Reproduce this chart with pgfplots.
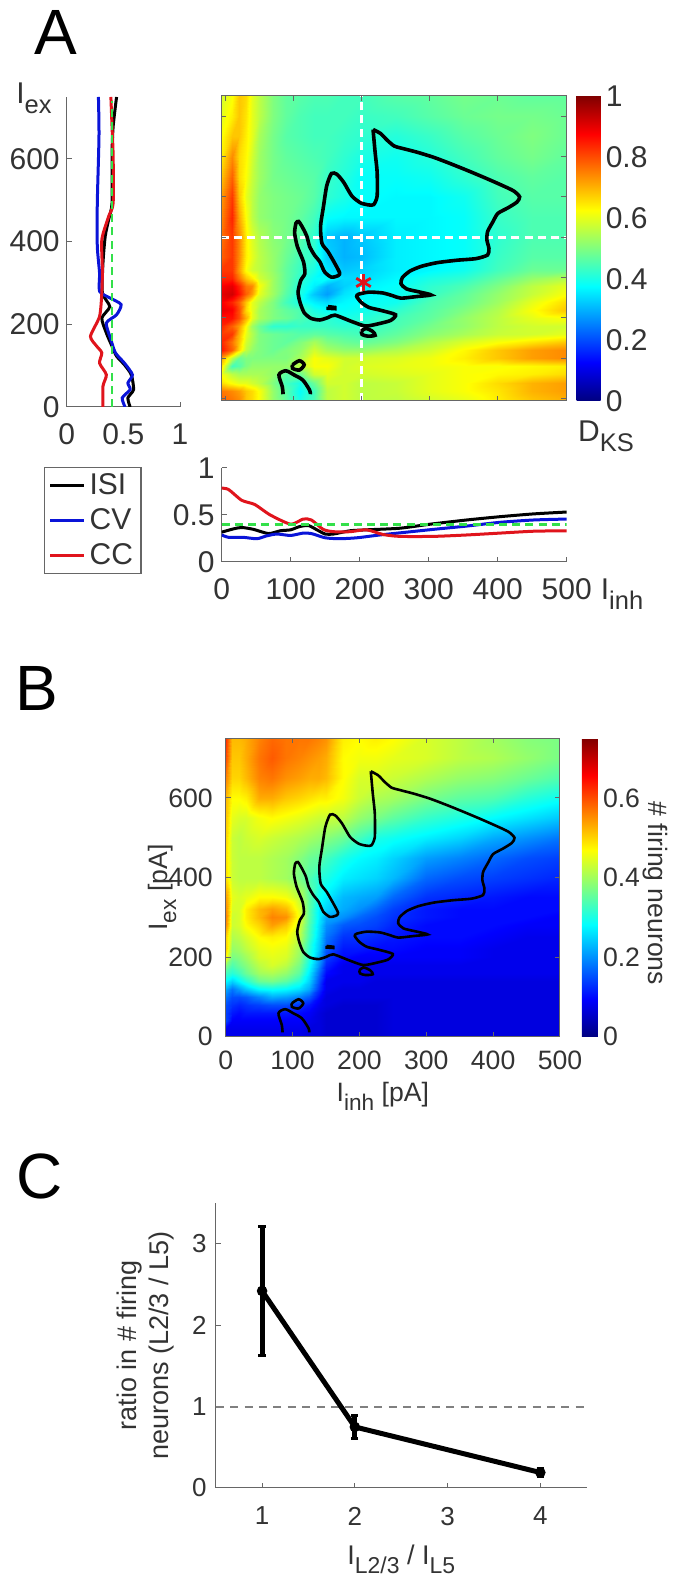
\documentclass[border=0pt]{standalone}
\usepackage{fontspec}
\setmainfont{Liberation Sans}
\usepackage{pgfplots}
\usepackage{pgfplotstable}
\pgfplotsset{compat=1.18}
\definecolor{txt}{HTML}{333333}
\definecolor{axc}{HTML}{666666}
\definecolor{kred}{HTML}{E0141C}
\definecolor{kblue}{HTML}{0A14D8}
\definecolor{kgreen}{HTML}{33E04A}
\newcommand\fs[1]{\fontsize{#1}{#1}\selectfont}
\newcommand\Sb[1]{\raisebox{-.34em}{\scalebox{.85}{#1}}}
\pgfplotsset{
  base/.style={scale only axis,enlargelimits=false,tick align=inside,tickwidth=2.5pt,
    axis line style={color=axc,line width=.5pt},tick style={color=axc,line width=.5pt},
    /pgf/number format/assume math mode=true,
    tick label style={color=txt},label style={color=txt},clip=true},
}
\pgfplotstableread{
x y
217 667
228 657
238 640
248 626
258 621
281 611
306 598
331 582
356 565
380 548
403 531
423 515
432 500
428 487
415 473
400 459
393 439
385 414
384 393
387 372
385 356
368 347
340 343
311 337
288 328
271 316
260 300
258 285
266 272
286 264
302 257
281 253
258 249
246 255
231 262
211 264
196 259
193 253
200 238
211 226
228 219
250 208
243 194
226 186
206 180
186 191
161 207
151 201
139 195
126 199
116 213
110 238
107 264
111 293
117 310
115 339
106 377
102 410
104 435
108 439
114 423
120 402
124 377
131 356
139 339
146 314
156 301
166 305
168 312
161 335
151 364
142 385
140 427
144 473
149 527
156 558
164 556
174 536
186 502
199 485
211 480
218 481
223 502
223 561
220 611
217 667
}\contmain
\pgfplotstableread{
x y
200 167
206 174
216 167
220 157
209 155
201 159
200 167
}\contoval
\pgfplotstableread{
x y
99 84
109 94
116 84
109 71
99 75
99 84
}\contsmall
\pgfplotstableread{
x y
85 11
84 29
79 59
89 69
101 59
114 46
124 21
125 11
}\contarch
\pgfplotstableread{
x y
151 228
161 226
161 223
151 224
151 228
}\contblob
\newcommand\contours[1]{%
  \addplot[black,line width=#1,smooth,tension=.4] table {\contmain};
  \addplot[black,line width=#1,smooth,tension=.5] table {\contoval};
  \addplot[black,line width=#1,smooth,tension=.5] table {\contsmall};
  \addplot[black,line width=#1,smooth,tension=.5] table {\contarch};
  \addplot[black,fill=black,line width=#1] table {\contblob};
}
\begin{document}
\begin{tikzpicture}
\path[use as bounding box] (0,0) rectangle (336.5pt,789pt);
% panel letters
\node[text=black] at (28pt,772.5pt) {\fs{32}A};
\node[text=black] at (18.5pt,445pt) {\fs{32}B};
\node[text=black] at (20pt,201pt) {\fs{32}C};
% --- A heat map
\begin{axis}[base,at={(110.5pt,588.65pt)},anchor=south west,width=172.5pt,height=152.35pt,
  xmin=-6,xmax=500,ymin=-5,ymax=750,xtick={0,100,...,500},ytick={0,100,...,700},
  xticklabels={},yticklabels={},axis on top,colormap/jet,point meta min=0,point meta max=1,
  colorbar,colorbar style={at={(1.031,0)},anchor=south west,width=12pt,
    ytick={0,0.2,0.4,0.6,0.8,1},yticklabels={0,0.2,0.4,0.6,0.8,1},
    ytick style={draw=none},yticklabel style={font=\fs{15},color=txt,xshift=-1pt},
    axis line style={draw=none}}]
\addplot[surf,shader=interp,mesh/cols=19,point meta=explicit] table[row sep=\\,x=x,y=y,meta=v]{
x y v\\
-6 750 0.58\\10 750 0.62\\20 750 0.68\\30 750 0.66\\40 750 0.60\\50 750 0.56\\70 750 0.50\\90 750 0.47\\110 750 0.46\\130 750 0.45\\150 750 0.45\\175 750 0.44\\200 750 0.44\\250 750 0.46\\300 750 0.47\\350 750 0.49\\400 750 0.48\\450 750 0.47\\500 750 0.47\\
-6 700 0.60\\10 700 0.64\\20 700 0.68\\30 700 0.65\\40 700 0.60\\50 700 0.56\\70 700 0.50\\90 700 0.47\\110 700 0.45\\130 700 0.44\\150 700 0.44\\175 700 0.44\\200 700 0.43\\250 700 0.44\\300 700 0.46\\350 700 0.48\\400 700 0.49\\450 700 0.49\\500 700 0.48\\
-6 650 0.62\\10 650 0.68\\20 650 0.68\\30 650 0.64\\40 650 0.60\\50 650 0.54\\70 650 0.49\\90 650 0.46\\110 650 0.45\\130 650 0.44\\150 650 0.44\\175 650 0.43\\200 650 0.42\\250 650 0.41\\300 650 0.43\\350 650 0.46\\400 650 0.48\\450 650 0.50\\500 650 0.48\\
-6 600 0.64\\10 600 0.74\\20 600 0.66\\30 600 0.63\\40 600 0.58\\50 600 0.53\\70 600 0.49\\90 600 0.47\\110 600 0.46\\130 600 0.45\\150 600 0.44\\175 600 0.42\\200 600 0.40\\250 600 0.39\\300 600 0.41\\350 600 0.44\\400 600 0.47\\450 600 0.49\\500 600 0.47\\
-6 550 0.68\\10 550 0.78\\20 550 0.66\\30 550 0.62\\40 550 0.57\\50 550 0.53\\70 550 0.49\\90 550 0.48\\110 550 0.47\\130 550 0.46\\150 550 0.43\\175 550 0.41\\200 550 0.38\\250 550 0.38\\300 550 0.39\\350 550 0.42\\400 550 0.45\\450 550 0.47\\500 550 0.46\\
-6 500 0.72\\10 500 0.82\\20 500 0.68\\30 500 0.60\\40 500 0.56\\50 500 0.52\\70 500 0.50\\90 500 0.49\\110 500 0.48\\130 500 0.46\\150 500 0.42\\175 500 0.40\\200 500 0.38\\250 500 0.37\\300 500 0.37\\350 500 0.39\\400 500 0.44\\450 500 0.46\\500 500 0.46\\
-6 450 0.74\\10 450 0.84\\20 450 0.71\\30 450 0.62\\40 450 0.56\\50 450 0.52\\70 450 0.50\\90 450 0.49\\110 450 0.47\\130 450 0.44\\150 450 0.38\\175 450 0.37\\200 450 0.37\\250 450 0.37\\300 450 0.37\\350 450 0.38\\400 450 0.43\\450 450 0.45\\500 450 0.45\\
-6 400 0.76\\10 400 0.82\\20 400 0.74\\30 400 0.64\\40 400 0.59\\50 400 0.55\\70 400 0.51\\90 400 0.49\\110 400 0.46\\130 400 0.42\\150 400 0.32\\175 400 0.30\\200 400 0.32\\250 400 0.36\\300 400 0.37\\350 400 0.38\\400 400 0.42\\450 400 0.45\\500 400 0.45\\
-6 350 0.78\\10 350 0.82\\20 350 0.74\\30 350 0.64\\40 350 0.60\\50 350 0.56\\70 350 0.52\\90 350 0.48\\110 350 0.44\\130 350 0.42\\150 350 0.33\\175 350 0.30\\200 350 0.31\\250 350 0.36\\300 350 0.37\\350 350 0.38\\400 350 0.43\\450 350 0.46\\500 350 0.46\\
-6 320 0.82\\10 320 0.82\\20 320 0.72\\30 320 0.62\\40 320 0.58\\50 320 0.56\\70 320 0.52\\90 320 0.47\\110 320 0.43\\130 320 0.40\\150 320 0.35\\175 320 0.32\\200 320 0.33\\250 320 0.36\\300 320 0.37\\350 320 0.39\\400 320 0.44\\450 320 0.48\\500 320 0.48\\
-6 300 0.84\\10 300 0.84\\20 300 0.76\\30 300 0.68\\40 300 0.64\\50 300 0.58\\70 300 0.53\\90 300 0.47\\110 300 0.42\\130 300 0.38\\150 300 0.38\\175 300 0.34\\200 300 0.34\\250 300 0.37\\300 300 0.40\\350 300 0.42\\400 300 0.47\\450 300 0.52\\500 300 0.55\\
-6 280 0.88\\10 280 0.90\\20 280 0.84\\30 280 0.76\\40 280 0.74\\50 280 0.62\\70 280 0.53\\90 280 0.47\\110 280 0.41\\130 280 0.36\\150 280 0.30\\175 280 0.33\\200 280 0.36\\250 280 0.38\\300 280 0.42\\350 280 0.45\\400 280 0.50\\450 280 0.56\\500 280 0.60\\
-6 260 0.90\\10 260 0.92\\20 260 0.86\\30 260 0.78\\40 260 0.72\\50 260 0.60\\70 260 0.53\\90 260 0.46\\110 260 0.40\\130 260 0.32\\150 260 0.28\\175 260 0.35\\200 260 0.37\\250 260 0.38\\300 260 0.43\\350 260 0.47\\400 260 0.52\\450 260 0.57\\500 260 0.62\\
-6 240 0.88\\10 240 0.84\\20 240 0.78\\30 240 0.68\\40 240 0.60\\50 240 0.56\\70 240 0.50\\90 240 0.44\\110 240 0.40\\130 240 0.36\\150 240 0.34\\175 240 0.37\\200 240 0.38\\250 240 0.39\\300 240 0.45\\350 240 0.48\\400 240 0.53\\450 240 0.60\\500 240 0.66\\
-6 220 0.90\\10 220 0.88\\20 220 0.80\\30 220 0.66\\40 220 0.60\\50 220 0.54\\70 220 0.50\\90 220 0.47\\110 220 0.45\\130 220 0.40\\150 220 0.38\\175 220 0.38\\200 220 0.39\\250 220 0.42\\300 220 0.46\\350 220 0.50\\400 220 0.55\\450 220 0.62\\500 220 0.68\\
-6 200 0.86\\10 200 0.86\\20 200 0.80\\30 200 0.70\\40 200 0.60\\50 200 0.54\\70 200 0.50\\90 200 0.48\\110 200 0.45\\130 200 0.43\\150 200 0.42\\175 200 0.40\\200 200 0.41\\250 200 0.44\\300 200 0.47\\350 200 0.52\\400 200 0.56\\450 200 0.60\\500 200 0.62\\
-6 180 0.84\\10 180 0.78\\20 180 0.72\\30 180 0.62\\40 180 0.53\\50 180 0.48\\70 180 0.42\\90 180 0.42\\110 180 0.43\\130 180 0.43\\150 180 0.43\\175 180 0.42\\200 180 0.42\\250 180 0.45\\300 180 0.49\\350 180 0.52\\400 180 0.56\\450 180 0.58\\500 180 0.58\\
-6 160 0.82\\10 160 0.82\\20 160 0.70\\30 160 0.60\\40 160 0.55\\50 160 0.50\\70 160 0.48\\90 160 0.47\\110 160 0.46\\130 160 0.47\\150 160 0.46\\175 160 0.45\\200 160 0.44\\250 160 0.47\\300 160 0.51\\350 160 0.54\\400 160 0.57\\450 160 0.58\\500 160 0.60\\
-6 140 0.84\\10 140 0.76\\20 140 0.68\\30 140 0.58\\40 140 0.54\\50 140 0.50\\70 140 0.48\\90 140 0.47\\110 140 0.50\\130 140 0.54\\150 140 0.50\\175 140 0.48\\200 140 0.47\\250 140 0.50\\300 140 0.55\\350 140 0.59\\400 140 0.62\\450 140 0.65\\500 140 0.68\\
-6 120 0.86\\10 120 0.78\\20 120 0.66\\30 120 0.56\\40 120 0.52\\50 120 0.50\\70 120 0.48\\90 120 0.50\\110 120 0.52\\130 120 0.58\\150 120 0.54\\175 120 0.52\\200 120 0.52\\250 120 0.55\\300 120 0.58\\350 120 0.63\\400 120 0.68\\450 120 0.72\\500 120 0.74\\
-6 100 0.72\\10 100 0.56\\20 100 0.48\\30 100 0.50\\40 100 0.50\\50 100 0.50\\70 100 0.50\\90 100 0.50\\110 100 0.54\\130 100 0.62\\150 100 0.60\\175 100 0.58\\200 100 0.58\\250 100 0.59\\300 100 0.61\\350 100 0.64\\400 100 0.68\\450 100 0.72\\500 100 0.74\\
-6 80 0.66\\10 80 0.44\\20 80 0.46\\30 80 0.50\\40 80 0.52\\50 80 0.52\\70 80 0.52\\90 80 0.52\\110 80 0.56\\130 80 0.62\\150 80 0.62\\175 80 0.58\\200 80 0.59\\250 80 0.60\\300 80 0.61\\350 80 0.62\\400 80 0.62\\450 80 0.63\\500 80 0.64\\
-6 60 0.62\\10 60 0.56\\20 60 0.54\\30 60 0.54\\40 60 0.54\\50 60 0.54\\70 60 0.52\\90 60 0.46\\110 60 0.48\\130 60 0.58\\150 60 0.60\\175 60 0.58\\200 60 0.58\\250 60 0.59\\300 60 0.60\\350 60 0.62\\400 60 0.63\\450 60 0.64\\500 60 0.66\\
-6 40 0.66\\10 40 0.62\\20 40 0.60\\30 40 0.60\\40 40 0.58\\50 40 0.56\\70 40 0.50\\90 40 0.44\\110 40 0.40\\130 40 0.48\\150 40 0.58\\175 40 0.58\\200 40 0.56\\250 40 0.57\\300 40 0.60\\350 40 0.62\\400 40 0.66\\450 40 0.70\\500 40 0.72\\
-6 20 0.76\\10 20 0.74\\20 20 0.72\\30 20 0.68\\40 20 0.66\\50 20 0.62\\70 20 0.52\\90 20 0.46\\110 20 0.38\\130 20 0.44\\150 20 0.56\\175 20 0.58\\200 20 0.56\\250 20 0.57\\300 20 0.60\\350 20 0.62\\400 20 0.65\\450 20 0.70\\500 20 0.72\\
-6 -5 0.78\\10 -5 0.76\\20 -5 0.74\\30 -5 0.68\\40 -5 0.66\\50 -5 0.62\\70 -5 0.52\\90 -5 0.47\\110 -5 0.40\\130 -5 0.45\\150 -5 0.56\\175 -5 0.58\\200 -5 0.56\\250 -5 0.56\\300 -5 0.58\\350 -5 0.60\\400 -5 0.64\\450 -5 0.68\\500 -5 0.70\\
};
\addplot[white,line width=1.3pt,dash pattern=on 4pt off 2.6pt] coordinates {(-6,400) (500,400)};
\addplot[white,line width=1.3pt,dash pattern=on 4pt off 2.6pt] coordinates {(200,-5) (200,750)};
\contours{1.8pt}
\addplot[only marks,mark=asterisk,mark size=4.2pt,mark options={color=kred,line width=1.4pt}] coordinates {(203,288)};
\end{axis}
% D_KS and I_inh labels
\node[text=txt,anchor=center] at (303pt,571pt) {\fs{15}D\Sb{KS}};
\node[text=txt,anchor=center] at (311pt,492pt) {\fs{15}I\Sb{inh}};
\node[text=txt,anchor=center] at (17pt,740pt) {\fs{15}I\Sb{ex}};
% --- A left panel
\begin{axis}[base,at={(33.35pt,585.5pt)},anchor=south west,width=56.65pt,height=155pt,
  xmin=0,xmax=1,ymin=0,ymax=750,axis x line*=bottom,axis y line*=left,
  xtick={0,0.5,1},xticklabels={0,0.5,1},ytick={0,200,400,600},
  tick label style={font=\fs{15}},xticklabel style={yshift=-5pt},
  legend style={at={(-0.2,-0.194)},anchor=north west,draw=axc,line width=.6pt,font=\fs{15},
    inner xsep=2pt,inner ysep=1pt,row sep=1.5pt,cells={anchor=west,text=txt},/tikz/every even column/.append style={column sep=0pt}},
  legend image code/.code={\draw[#1,line width=1.5pt] (0,0) -- (17pt,0);}]
\addplot[black,line width=1.5pt,smooth,tension=.4] coordinates {(0.44,750)(0.41,679)(0.40,614)(0.40,493)(0.37,453)(0.34,413)(0.32,348)(0.315,276)(0.38,243)(0.31,215)(0.35,179)(0.40,147)(0.44,123)(0.51,102)(0.57,78)(0.59,42)(0.54,22)(0.56,0)};
\addplot[kblue,line width=1.5pt,smooth,tension=.4] coordinates {(0.28,750)(0.285,655)(0.27,493)(0.27,389)(0.29,324)(0.29,280)(0.38,264)(0.48,248)(0.44,223)(0.35,203)(0.39,163)(0.43,131)(0.51,106)(0.58,78)(0.54,58)(0.56,42)(0.49,22)(0.515,0)};
\addplot[kred,line width=1.5pt,smooth,tension=.4] coordinates {(0.39,750)(0.40,679)(0.41,606)(0.41,493)(0.37,461)(0.31,405)(0.315,332)(0.31,276)(0.29,219)(0.21,171)(0.265,147)(0.31,131)(0.29,106)(0.35,78)(0.32,50)(0.32,0)};
\addplot[kgreen,line width=1.4pt,dash pattern=on 4pt off 2.6pt] coordinates {(0.4,0)(0.4,740)};
\legend{ISI,CV,CC}
\end{axis}
% --- A bottom panel
\begin{axis}[base,at={(110.85pt,508.15pt)},anchor=south west,width=172.5pt,height=46.85pt,
  xmin=0,xmax=500,ymin=0,ymax=1,axis x line*=bottom,axis y line*=left,
  xtick={0,100,...,500},ytick={0,0.5,1},yticklabels={0,0.5,1},
  tick label style={font=\fs{15}},xticklabel style={yshift=-5pt}]
\addplot[black,line width=1.5pt,smooth,tension=.4] coordinates {(0,.315)(17,.35)(29,.365)(46,.345)(68,.30)(85,.33)(100,.34)(113,.375)(126,.385)(138,.34)(150,.295)(162,.295)(186,.33)(210,.34)(258,.357)(302,.40)(355,.445)(403,.48)(452,.51)(500,.53)};
\addplot[kblue,line width=1.5pt,smooth,tension=.4] coordinates {(0,.285)(10,.26)(31,.26)(51,.245)(65,.275)(80,.295)(100,.28)(118,.305)(130,.30)(150,.255)(171,.245)(196,.255)(229,.285)(268,.315)(307,.345)(355,.38)(403,.42)(452,.445)(500,.455)};
\addplot[kred,line width=1.5pt,smooth,tension=.4] coordinates {(0,.785)(10,.77)(29,.655)(48,.61)(70,.50)(100,.40)(118,.455)(130,.445)(147,.345)(162,.32)(186,.32)(210,.34)(234,.29)(258,.27)(307,.27)(355,.285)(403,.305)(452,.325)(500,.33)};
\addplot[kgreen,line width=1.4pt,dash pattern=on 4pt off 2.6pt] coordinates {(0,0.4)(500,0.4)};
\end{axis}
% --- B heat map
\begin{axis}[base,at={(112.85pt,270.65pt)},anchor=south west,width=167.15pt,height=149.2pt,
  xmin=0,xmax=500,ymin=0,ymax=750,xtick={0,100,...,500},ytick={0,200,400,600},
  tick label style={font=\fs{13.3}},label style={font=\fs{13.3}},axis on top,
  xticklabel style={yshift=-3.5pt},yticklabel style={xshift=-3pt},
  xlabel={I\Sb{inh} [pA]},ylabel={I\Sb{ex} [pA]},
  xlabel style={at={(axis description cs:0.47,-0.2)},anchor=center},
  ylabel style={at={(axis description cs:-0.19,0.5)},anchor=center},
  colormap/jet,point meta min=0,point meta max=0.75,
  colorbar,colorbar style={at={(1.0658,0)},anchor=south west,width=8pt,
    ytick={0,0.2,0.4,0.6},yticklabels={0,0.2,0.4,0.6},
    ytick style={draw=none},yticklabel style={font=\fs{13.3},color=txt,xshift=-1pt},
    axis line style={draw=none},
    ylabel={\# firing neurons},ylabel style={font=\fs{13.3},color=txt,rotate=180,at={(axis description cs:4.6,0.48)},anchor=center}}]
\addplot[surf,shader=interp,mesh/cols=20,point meta=explicit] table[row sep=\\,x=x,y=y,meta=v]{
x y v\\
0 750 0.62\\10 750 0.52\\20 750 0.52\\30 750 0.53\\50 750 0.56\\70 750 0.58\\90 750 0.57\\110 750 0.57\\125 750 0.57\\140 750 0.56\\150 750 0.55\\175 750 0.48\\200 750 0.47\\225 750 0.48\\250 750 0.47\\300 750 0.44\\350 750 0.42\\400 750 0.40\\450 750 0.38\\500 750 0.37\\
0 700 0.60\\10 700 0.51\\20 700 0.51\\30 700 0.53\\50 700 0.57\\70 700 0.59\\90 700 0.57\\110 700 0.56\\125 700 0.55\\140 700 0.54\\150 700 0.53\\175 700 0.47\\200 700 0.46\\225 700 0.46\\250 700 0.45\\300 700 0.44\\350 700 0.42\\400 700 0.41\\450 700 0.39\\500 700 0.37\\
0 650 0.56\\10 650 0.50\\20 650 0.50\\30 650 0.52\\50 650 0.56\\70 650 0.57\\90 650 0.55\\110 650 0.54\\125 650 0.53\\140 650 0.53\\150 650 0.52\\175 650 0.47\\200 650 0.44\\225 650 0.44\\250 650 0.43\\300 650 0.41\\350 650 0.39\\400 650 0.38\\450 650 0.36\\500 650 0.34\\
0 600 0.52\\10 600 0.47\\20 600 0.47\\30 600 0.48\\50 600 0.53\\70 600 0.53\\90 600 0.51\\110 600 0.50\\125 600 0.49\\140 600 0.48\\150 600 0.48\\175 600 0.46\\200 600 0.43\\225 600 0.41\\250 600 0.40\\300 600 0.37\\350 600 0.35\\400 600 0.34\\450 600 0.31\\500 600 0.29\\
0 550 0.51\\10 550 0.45\\20 550 0.44\\30 550 0.44\\50 550 0.46\\70 550 0.47\\90 550 0.46\\110 550 0.45\\125 550 0.44\\140 550 0.43\\150 550 0.43\\175 550 0.42\\200 550 0.39\\225 550 0.37\\250 550 0.35\\300 550 0.32\\350 550 0.30\\400 550 0.28\\450 550 0.26\\500 550 0.24\\
0 500 0.50\\10 500 0.43\\20 500 0.42\\30 500 0.43\\50 500 0.44\\70 500 0.43\\90 500 0.42\\110 500 0.41\\125 500 0.40\\140 500 0.39\\150 500 0.38\\175 500 0.36\\200 500 0.33\\225 500 0.30\\250 500 0.29\\300 500 0.27\\350 500 0.25\\400 500 0.22\\450 500 0.20\\500 500 0.18\\
0 450 0.49\\10 450 0.43\\20 450 0.42\\30 450 0.42\\50 450 0.42\\70 450 0.41\\90 450 0.40\\110 450 0.38\\125 450 0.36\\140 450 0.35\\150 450 0.33\\175 450 0.30\\200 450 0.28\\225 450 0.27\\250 450 0.25\\300 450 0.21\\350 450 0.19\\400 450 0.17\\450 450 0.15\\500 450 0.14\\
0 400 0.49\\10 400 0.43\\20 400 0.42\\30 400 0.42\\50 400 0.42\\70 400 0.41\\90 400 0.40\\110 400 0.37\\125 400 0.34\\140 400 0.31\\150 400 0.30\\175 400 0.27\\200 400 0.26\\225 400 0.25\\250 400 0.23\\300 400 0.17\\350 400 0.15\\400 400 0.14\\450 400 0.13\\500 400 0.12\\
0 350 0.54\\10 350 0.45\\20 350 0.44\\30 350 0.45\\50 350 0.47\\70 350 0.47\\90 350 0.46\\110 350 0.42\\125 350 0.35\\140 350 0.29\\150 350 0.27\\175 350 0.23\\200 350 0.22\\225 350 0.21\\250 350 0.17\\300 350 0.13\\350 350 0.12\\400 350 0.11\\450 350 0.10\\500 350 0.10\\
0 320 0.55\\10 320 0.44\\20 320 0.44\\30 320 0.48\\50 320 0.52\\70 320 0.54\\90 320 0.52\\110 320 0.45\\125 320 0.35\\140 320 0.27\\150 320 0.25\\175 320 0.22\\200 320 0.20\\225 320 0.17\\250 320 0.14\\300 320 0.11\\350 320 0.10\\400 320 0.10\\450 320 0.10\\500 320 0.10\\
0 300 0.56\\10 300 0.43\\20 300 0.44\\30 300 0.48\\50 300 0.52\\70 300 0.56\\90 300 0.55\\110 300 0.46\\125 300 0.35\\140 300 0.27\\150 300 0.22\\175 300 0.20\\200 300 0.17\\225 300 0.15\\250 300 0.13\\300 300 0.11\\350 300 0.10\\400 300 0.10\\450 300 0.10\\500 300 0.09\\
0 280 0.55\\10 280 0.43\\20 280 0.44\\30 280 0.47\\50 280 0.50\\70 280 0.54\\90 280 0.51\\110 280 0.44\\125 280 0.34\\140 280 0.26\\150 280 0.20\\175 280 0.16\\200 280 0.15\\225 280 0.14\\250 280 0.12\\300 280 0.10\\350 280 0.10\\400 280 0.10\\450 280 0.09\\500 280 0.09\\
0 250 0.50\\10 250 0.41\\20 250 0.42\\30 250 0.44\\50 250 0.47\\70 250 0.48\\90 250 0.47\\110 250 0.42\\125 250 0.33\\140 250 0.25\\150 250 0.18\\175 250 0.13\\200 250 0.13\\225 250 0.12\\250 250 0.11\\300 250 0.10\\350 250 0.10\\400 250 0.09\\450 250 0.08\\500 250 0.08\\
0 220 0.50\\10 220 0.39\\20 220 0.40\\30 220 0.42\\50 220 0.45\\70 220 0.46\\90 220 0.45\\110 220 0.40\\125 220 0.31\\140 220 0.24\\150 220 0.16\\175 220 0.11\\200 220 0.11\\225 220 0.10\\250 220 0.10\\300 220 0.09\\350 220 0.09\\400 220 0.08\\450 220 0.08\\500 220 0.08\\
0 200 0.47\\10 200 0.37\\20 200 0.38\\30 200 0.40\\50 200 0.44\\70 200 0.45\\90 200 0.44\\110 200 0.39\\125 200 0.31\\140 200 0.22\\150 200 0.14\\175 200 0.10\\200 200 0.09\\225 200 0.09\\250 200 0.09\\300 200 0.09\\350 200 0.09\\400 200 0.08\\450 200 0.08\\500 200 0.08\\
0 180 0.38\\10 180 0.34\\20 180 0.36\\30 180 0.38\\50 180 0.42\\70 180 0.44\\90 180 0.42\\110 180 0.37\\125 180 0.29\\140 180 0.20\\150 180 0.12\\175 180 0.08\\200 180 0.08\\225 180 0.08\\250 180 0.08\\300 180 0.08\\350 180 0.08\\400 180 0.08\\450 180 0.08\\500 180 0.08\\
0 160 0.33\\10 160 0.31\\20 160 0.33\\30 160 0.36\\50 160 0.40\\70 160 0.41\\90 160 0.39\\110 160 0.35\\125 160 0.27\\140 160 0.17\\150 160 0.10\\175 160 0.08\\200 160 0.08\\225 160 0.08\\250 160 0.08\\300 160 0.08\\350 160 0.08\\400 160 0.08\\450 160 0.08\\500 160 0.08\\
0 140 0.28\\10 140 0.25\\20 140 0.28\\30 140 0.31\\50 140 0.36\\70 140 0.37\\90 140 0.35\\110 140 0.31\\125 140 0.25\\140 140 0.15\\150 140 0.08\\175 140 0.08\\200 140 0.08\\225 140 0.07\\250 140 0.07\\300 140 0.07\\350 140 0.07\\400 140 0.07\\450 140 0.07\\500 140 0.07\\
0 120 0.22\\10 120 0.18\\20 120 0.21\\30 120 0.24\\50 120 0.28\\70 120 0.29\\90 120 0.28\\110 120 0.26\\125 120 0.22\\140 120 0.13\\150 120 0.08\\175 120 0.07\\200 120 0.07\\225 120 0.07\\250 120 0.07\\300 120 0.07\\350 120 0.07\\400 120 0.07\\450 120 0.07\\500 120 0.07\\
0 100 0.18\\10 100 0.15\\20 100 0.15\\30 100 0.16\\50 100 0.19\\70 100 0.22\\90 100 0.21\\110 100 0.19\\125 100 0.16\\140 100 0.10\\150 100 0.07\\175 100 0.07\\200 100 0.07\\225 100 0.07\\250 100 0.07\\300 100 0.07\\350 100 0.07\\400 100 0.07\\450 100 0.07\\500 100 0.07\\
0 80 0.15\\10 80 0.13\\20 80 0.12\\30 80 0.13\\50 80 0.14\\70 80 0.15\\90 80 0.15\\110 80 0.13\\125 80 0.11\\140 80 0.08\\150 80 0.07\\175 80 0.06\\200 80 0.06\\225 80 0.06\\250 80 0.07\\300 80 0.07\\350 80 0.07\\400 80 0.07\\450 80 0.07\\500 80 0.07\\
0 60 0.14\\10 60 0.11\\20 60 0.10\\30 60 0.11\\50 60 0.11\\70 60 0.11\\90 60 0.11\\110 60 0.10\\125 60 0.09\\140 60 0.07\\150 60 0.06\\175 60 0.06\\200 60 0.06\\225 60 0.06\\250 60 0.07\\300 60 0.07\\350 60 0.07\\400 60 0.07\\450 60 0.07\\500 60 0.07\\
0 40 0.14\\10 40 0.09\\20 40 0.09\\30 40 0.09\\50 40 0.09\\70 40 0.09\\90 40 0.09\\110 40 0.09\\125 40 0.08\\140 40 0.07\\150 40 0.06\\175 40 0.06\\200 40 0.06\\225 40 0.06\\250 40 0.07\\300 40 0.07\\350 40 0.07\\400 40 0.07\\450 40 0.07\\500 40 0.07\\
0 20 0.08\\10 20 0.08\\20 20 0.08\\30 20 0.08\\50 20 0.08\\70 20 0.08\\90 20 0.08\\110 20 0.08\\125 20 0.07\\140 20 0.07\\150 20 0.06\\175 20 0.06\\200 20 0.06\\225 20 0.06\\250 20 0.07\\300 20 0.07\\350 20 0.07\\400 20 0.07\\450 20 0.07\\500 20 0.07\\
0 0 0.08\\10 0 0.08\\20 0 0.08\\30 0 0.08\\50 0 0.08\\70 0 0.08\\90 0 0.08\\110 0 0.08\\125 0 0.07\\140 0 0.07\\150 0 0.06\\175 0 0.06\\200 0 0.06\\225 0 0.06\\250 0 0.07\\300 0 0.07\\350 0 0.07\\400 0 0.07\\450 0 0.07\\500 0 0.07\\
};
\contours{1.3pt}
\end{axis}
% --- C
\begin{axis}[base,at={(107.85pt,45pt)},anchor=south west,width=185.5pt,height=142.5pt,
  xmin=0.5,xmax=4.5,ymin=0,ymax=3.5,axis x line*=bottom,axis y line*=left,
  xtick={1,2,3,4},ytick={0,1,2,3},
  tick label style={font=\fs{13}},label style={font=\fs{13.5}},
  xticklabel style={yshift=-6pt},yticklabel style={xshift=-1pt},
  xlabel={I\Sb{L2/3} / I\Sb{L5}},
  xlabel style={at={(axis description cs:0.5,-0.25)},anchor=center},
  ylabel={\begin{tabular}{c}ratio in \# firing\\[2pt]neurons (L2/3 / L5)\end{tabular}},
  ylabel style={at={(axis description cs:-0.185,0.5)},anchor=center}]
\addplot[gray,line width=1pt,dash pattern=on 4pt off 3.2pt] coordinates {(0.5,1)(4.5,1)};
\addplot[black,line width=2.5pt,mark=*,mark size=1.3pt,
  error bars/.cd,y dir=both,y explicit,error bar style={line width=2.5pt},
  error mark options={rotate=90,mark size=1.8pt,line width=1.5pt}]
  coordinates {(1,2.42) +- (0,0.79) (2,0.75) +- (0,0.14) (4,0.19) +- (0,0.05)};
\end{axis}
\end{tikzpicture}
\end{document}
